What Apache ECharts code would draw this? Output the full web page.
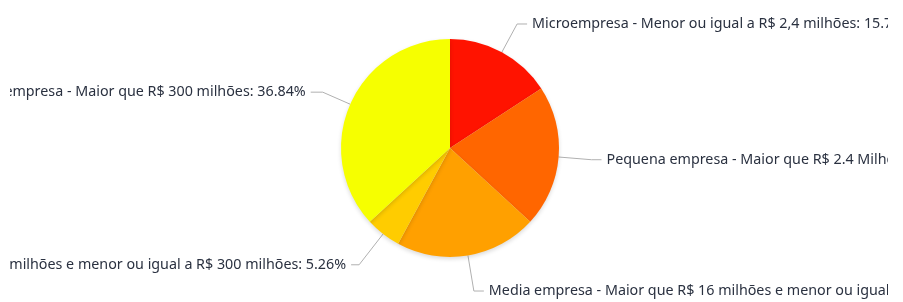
<!DOCTYPE html>
<html>
<head>
<meta charset="utf-8">
<script src="https://cdn.jsdelivr.net/npm/echarts@6/dist/echarts.min.js"></script>
<style>
html,body{margin:0;padding:0;background:#fff;width:903px;height:302px;overflow:hidden;}
#chart{position:absolute;left:10px;top:0;width:878px;height:302px;}
</style>
</head>
<body>
<div id="chart"></div>
<script>
const categories = [
  "Microempresa - Menor ou igual a R$ 2,4 milhões",
  "Pequena empresa - Maior que R$ 2.4 Milhões e menor ou igual a R$ 16 milhões",
  "Media empresa - Maior que R$ 16 milhões e menor ou igual a R$ 90 milhões",
  "Media-grande empresa - Maior que R$ 90 milhões e menor ou igual a R$ 300 milhões",
  "Grande empresa - Maior que R$ 300 milhões"
];
const values = [3, 4, 4, 1, 7];

// styling (not data)
const colors = ["#ff1300", "#ff6600", "#ffa000", "#ffcc00", "#f6ff00"];
const leaderStyle = [
  {length: 32, length2: 10},
  {length: 33, length2: 10},
  {length: 36, length2: 10},
  {length: 39, length2: 8},
  {length: 30, length2: 12}
];

const chart = echarts.init(document.getElementById('chart'), null, {renderer: 'canvas'});
const total = values.reduce((a, b) => a + b, 0);
chart.setOption({
  animation: false,
  series: [{
    type: 'pie',
    center: [440, 148],
    radius: 109,
    startAngle: 90,
    clockwise: true,
    avoidLabelOverlap: false,
    data: categories.map((c, i) => ({
      name: c,
      value: values[i],
      itemStyle: {color: colors[i]},
      labelLine: leaderStyle[i]
    })),
    itemStyle: {
      borderWidth: 0,
      shadowBlur: 4,
      shadowOffsetY: 2,
      shadowColor: 'rgba(0,0,0,0.15)'
    },
    label: {
      show: true,
      position: 'outside',
      alignTo: 'none',
      overflow: 'none',
      distanceToLabelLine: 5,
      fontFamily: 'Noto Sans',
      fontSize: 14.3,
      color: '#2a3140',
      formatter: p => p.name + ': ' + (p.value / total * 100).toFixed(2) + '%'
    },
    labelLine: {
      show: true,
      length: 33,
      length2: 10,
      smooth: false,
      lineStyle: {color: '#b0b0b0', width: 1}
    },
    emphasis: {disabled: true}
  }]
});
</script>
</body>
</html>
